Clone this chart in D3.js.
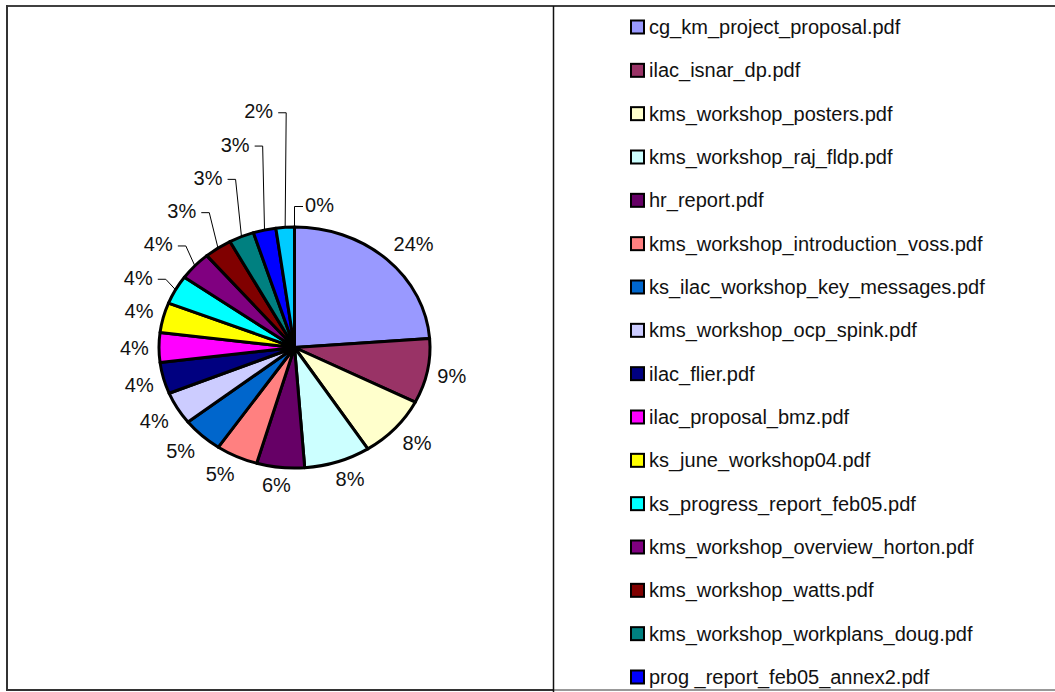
<!DOCTYPE html>
<html lang="en">
<head>
    <title>Downloads per file</title>
    <script src="https://d3js.org/d3.v7.min.js"></script>
    <style>
        body { margin: 0; background: #fff; }
        text { font-family: "Liberation Sans", Arial, sans-serif; font-size: 20px; fill: #111; }
    </style>
</head>
<body>
<script>

// file names as in the legend (the last two entries are cut off in the picture)
var files = [
    "cg_km_project_proposal.pdf",
    "ilac_isnar_dp.pdf",
    "kms_workshop_posters.pdf",
    "kms_workshop_raj_fldp.pdf",
    "hr_report.pdf",
    "kms_workshop_introduction_voss.pdf",
    "ks_ilac_workshop_key_messages.pdf",
    "kms_workshop_ocp_spink.pdf",
    "ilac_flier.pdf",
    "ilac_proposal_bmz.pdf",
    "ks_june_workshop04.pdf",
    "ks_progress_report_feb05.pdf",
    "kms_workshop_overview_horton.pdf",
    "kms_workshop_watts.pdf",
    "kms_workshop_workplans_doug.pdf",
    "prog _report_feb05_annex2.pdf",
    null,
    null
];

// share of downloads (percent)
var values = [23.8, 8.7, 8.4, 7.9, 5.7, 5.0, 4.9, 4.4, 4.2, 4.0, 4.0, 3.9, 3.9, 3.3, 3.0, 2.7, 2.2, 0];

// default excel palette
var colours = ["#9999FF", "#993366", "#FFFFCC", "#CCFFFF", "#660066", "#FF8080", "#0066CC", "#CCCCFF",
               "#000080", "#FF00FF", "#FFFF00", "#00FFFF", "#800080", "#800000", "#008080", "#0000FF",
               "#00CCFF", "#CCFFFF"];

const width = 1055, height = 692;
const cx = 294.5, cy = 347.5;     // pie centre
const ry = 120.5, rx = 135.5;     // the pie is a bit stretched sideways

const svg = d3.select("body")
    .append("svg")
    .attr("width", width)
    .attr("height", height);

// frame of the two table cells
svg.append("line").attr("x1", 6).attr("x2", width).attr("y1", 6).attr("y2", 6)
    .attr("stroke", "#404040").attr("stroke-width", 2);
svg.append("line").attr("x1", 7).attr("x2", 7).attr("y1", 5).attr("y2", 691)
    .attr("stroke", "#333").attr("stroke-width", 2);
svg.append("line").attr("x1", 6).attr("x2", 554).attr("y1", 690).attr("y2", 690)
    .attr("stroke", "#333").attr("stroke-width", 2);
svg.append("line").attr("x1", 554).attr("x2", width).attr("y1", 690).attr("y2", 690)
    .attr("stroke", "#999").attr("stroke-width", 2);
svg.append("line").attr("x1", 553.5).attr("x2", 553.5).attr("y1", 6).attr("y2", 692)
    .attr("stroke", "#111").attr("stroke-width", 1.5);

// pie
var pie = d3.pie().sort(null);
var arc = d3.arc().innerRadius(0).outerRadius(ry);
var slices = pie(values);
var total = d3.sum(values);
var fmt = d3.format(".0%");

svg.append("g")
    .attr("transform", "translate(" + cx + "," + cy + ") scale(" + (rx / ry) + ",1)")
    .selectAll("path")
    .data(slices)
    .enter()
    .append("path")
    .attr("d", arc)
    .attr("fill", function(d, i) { return colours[i]; })
    .attr("stroke", "#000")
    .attr("stroke-width", 3)
    .attr("stroke-linejoin", "round")
    .attr("vector-effect", "non-scaling-stroke");

// labels
var labelG = svg.append("g").attr("transform", "translate(" + cx + "," + cy + ")");
var clamp = function(v) { return Math.max(-1, Math.min(1, v)); };
var gap = 10, hh = 8, step = 33.3;

var labels = slices.map(function(d, i) {
    var a = (d.startAngle + d.endAngle) / 2;
    if (a >= 2 * Math.PI - 1e-9) a -= 2 * Math.PI;
    var t = labelG.append("text").attr("text-anchor", "middle").text(fmt(d.value / total));
    var hw = t.node().getBBox().width / 2;
    var s = Math.sin(a), c = Math.cos(a);
    var x = s * (rx + gap) + hw * clamp(2 * s);
    var y = -c * (ry + gap) - hh * clamp(2 * c);
    return { t: t, a: a, hw: hw, x: x, y: y, x0: x,
             ex: rx * s, ey: -ry * c,
             zero: d.endAngle - d.startAngle < 1e-9, moved: false };
});

// stack the crowded labels on the left side upwards
var left = labels.filter(function(l) { return l.a > Math.PI && !l.zero; })
                 .sort(function(a, b) { return a.a - b.a; });
var prev = null;
left.forEach(function(l) {
    if (prev && l.y > prev.y - 35 &&
        (prev.moved || Math.abs(l.x0 - prev.x0) < l.hw + prev.hw - 4)) {
        var shift = Math.max(0, l.y - (prev.y - step));
        l.y = prev.y - step;
        l.x = l.x - 14 - 0.1 * shift;
        l.moved = true;
    }
    prev = l;
});

// empty slices get their label pulled out to the right
labels.filter(function(l) { return l.zero; }).forEach(function(l) {
    l.y -= 4;
    l.x = 10.5 + l.hw;
    l.moved = true;
});

labels.forEach(function(l) {
    l.t.attr("x", l.x).attr("y", l.y + 7);
    if (!l.moved) return;
    var ly = l.y + 1.5, p;
    if (l.x < 0 && !l.zero) {
        var xr = l.x + l.hw;
        p = "M" + (xr + 5) + "," + ly + "H" + (xr + 13) + "L" + l.ex + "," + l.ey;
    } else {
        var xl = l.x - l.hw;
        p = "M" + l.ex + "," + l.ey + "L" + l.ex + "," + ly + "H" + (xl - 2);
    }
    labelG.append("path").attr("d", p)
        .attr("fill", "none").attr("stroke", "#000").attr("stroke-width", 1);
});

// legend
var legendY = d3.scaleLinear().domain([0, 15]).range([27, 677]);
var items = svg.append("g")
    .selectAll("g")
    .data(files.map(function(f, i) { return { name: f, i: i }; }).filter(function(d) { return d.name; }))
    .enter()
    .append("g")
    .attr("transform", function(d) { return "translate(0," + legendY(d.i) + ")"; });

items.append("rect")
    .attr("x", 631).attr("y", -6.5)
    .attr("width", 13).attr("height", 13)
    .attr("fill", function(d) { return colours[d.i]; })
    .attr("stroke", "#000").attr("stroke-width", 2);

items.append("text")
    .attr("x", 649).attr("y", 7)
    .text(function(d) { return d.name; });

</script>
</body>
</html>
